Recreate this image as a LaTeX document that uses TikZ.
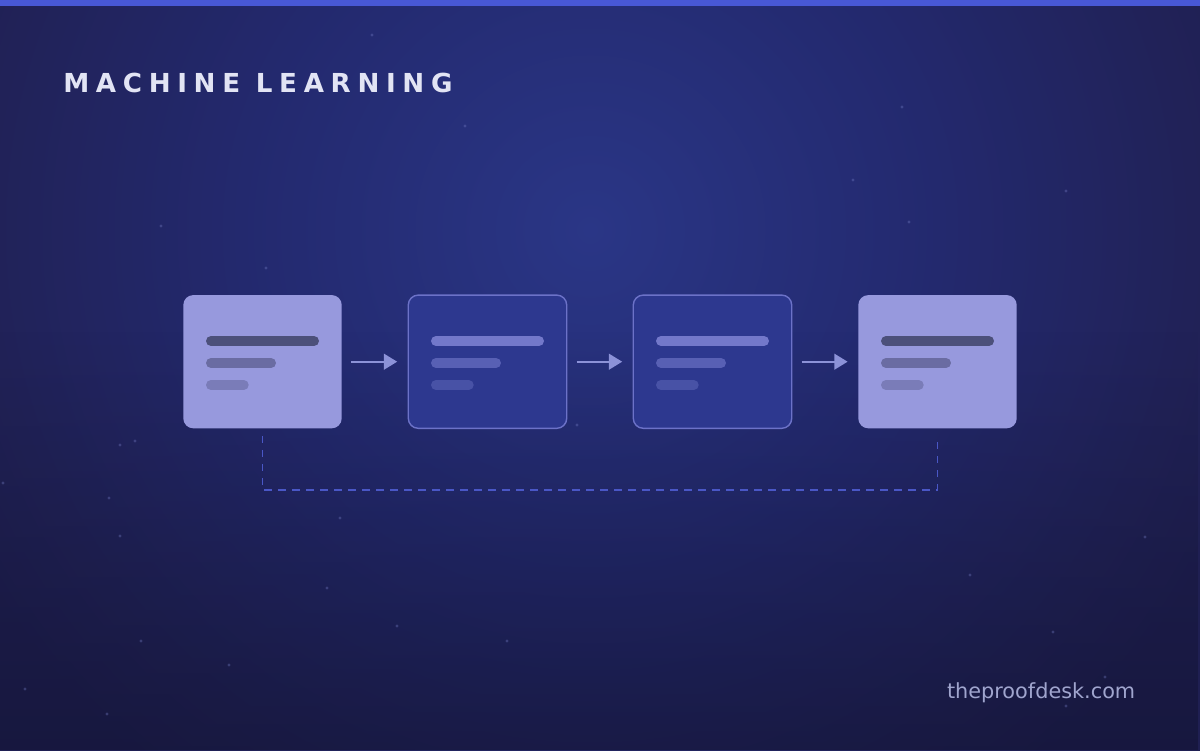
\documentclass[tikz,border=0pt]{standalone}
\usepackage{fontspec}
\setmainfont{DejaVu Sans}
\usetikzlibrary{arrows.meta,fadings}

\definecolor{bgIn}{RGB}{42,54,134}
\definecolor{bgMid}{RGB}{35,41,110}
\definecolor{bgRim}{RGB}{33,34,88}
\definecolor{bgOut}{RGB}{31,31,82}
\definecolor{bgLow}{RGB}{14,15,40}
\definecolor{topBar}{RGB}{72,88,214}
\definecolor{titleCol}{RGB}{226,228,244}
\definecolor{footCol}{RGB}{160,165,206}
\definecolor{cardLight}{RGB}{151,153,221}
\definecolor{cardDark}{RGB}{45,56,143}
\definecolor{cardEdge}{RGB}{108,114,200}
\definecolor{barlightA}{RGB}{76,80,122}
\definecolor{barlightB}{RGB}{106,108,162}
\definecolor{barlightC}{RGB}{122,124,184}
\definecolor{bardarkA}{RGB}{115,120,202}
\definecolor{bardarkB}{RGB}{88,96,180}
\definecolor{bardarkC}{RGB}{72,82,166}
\definecolor{arrowCol}{RGB}{140,146,216}
\definecolor{dashCol}{RGB}{74,87,198}
\definecolor{starCol}{RGB}{120,128,200}

\pgfdeclareradialshading{bgglow}{\pgfpointorigin}{color(0bp)=(bgIn); color(12.5bp)=(bgMid); color(21.5bp)=(bgRim); color(25bp)=(bgOut); color(50bp)=(bgOut)}
\tikzfading[name=fadedown, top color=transparent!100, bottom color=transparent!0]

\tikzset{
  card/.style={rounded corners=0.25cm, minimum width=3.96cm, minimum height=3.33cm, inner sep=0pt},
  cardlight/.style={card, fill=cardLight},
  carddark/.style={card, fill=cardDark, draw=cardEdge, line width=1pt},
  bar/.style={line width=0.25cm, line cap=round},
  flow/.style={draw=arrowCol, line width=1.4pt, shorten <=0.23cm, shorten >=0.26cm,
    -{Triangle[length=0.33cm,width=0.39cm]}},
  loopback/.style={draw=dashCol, line width=1.3pt, dash pattern=on 0.18cm off 0.17cm},
}

\begin{document}
\begin{tikzpicture}[x=0.025cm,y=-0.025cm]
% BACKGROUND ==================================================================
  \useasboundingbox (0,0) rectangle (1200,750);
  \begin{scope}
    \clip (0,0) rectangle (1200,750);
    \fill[bgOut] (0,0) rectangle (1200,750);
    \shade[shading=bgglow] (-110,-470) rectangle (1290,930);
    \fill[bgLow, path fading=fadedown, fill opacity=0.45] (0,330) rectangle (1200,750);
  \end{scope}
  \fill[topBar] (0,0) rectangle (1200,6); % top strip

% STARS =======================================================================
  \foreach \sx/\sy in {372/35,465/126,902/107,853/180,161/226,1066/191,909/222,
      577/425,135/441,120/445,3/483,109/498,340/518,120/536,1145/537,970/575,
      327/588,397/626,507/641,141/641,1053/632,229/665,25/689,1105/677,
      107/714,1066/706,266/268} {
    \fill[starCol, opacity=0.35] (\sx,\sy) circle (1.6);
  }

% TITLE =======================================================================
  \node[anchor=base west, inner sep=0pt, text=titleCol] (title) at (63,92)
    {\fontsize{18.6pt}{22pt}\bfseries\addfontfeatures{LetterSpace=25.5}MACHINE LEARNING};

% CARDS =======================================================================
  \foreach \n/\cx/\kind in {1/262.5/light,2/487.5/dark,3/712.5/dark,4/937.5/light} {
    \node[card\kind] (b\n) at (\cx,361.7) {};
    \draw[bar, draw=bar\kind A] (\cx-51.5,341) -- (\cx+51.5,341);
    \draw[bar, draw=bar\kind B] (\cx-51.5,363) -- (\cx+8.5,363);
    \draw[bar, draw=bar\kind C] (\cx-51.5,385) -- (\cx-18.8,385);
  }

% ARROWS ======================================================================
  \foreach \a/\b in {1/2,2/3,3/4} {
    \draw[flow] (b\a) -- (b\b);
  }

% FEEDBACK LOOP ===============================================================
  \coordinate (fbk) at (600,490);
  \draw[loopback] ([yshift=-0.18cm]b1.south) |- (fbk) -| ([yshift=-0.18cm]b4.south);

% FOOTER ======================================================================
  \node[anchor=base east, inner sep=0pt, text=footCol] (site) at (1135.5,698)
    {\fontsize{14.8pt}{18pt}\selectfont theproofdesk.com};

\end{tikzpicture}
\end{document}
